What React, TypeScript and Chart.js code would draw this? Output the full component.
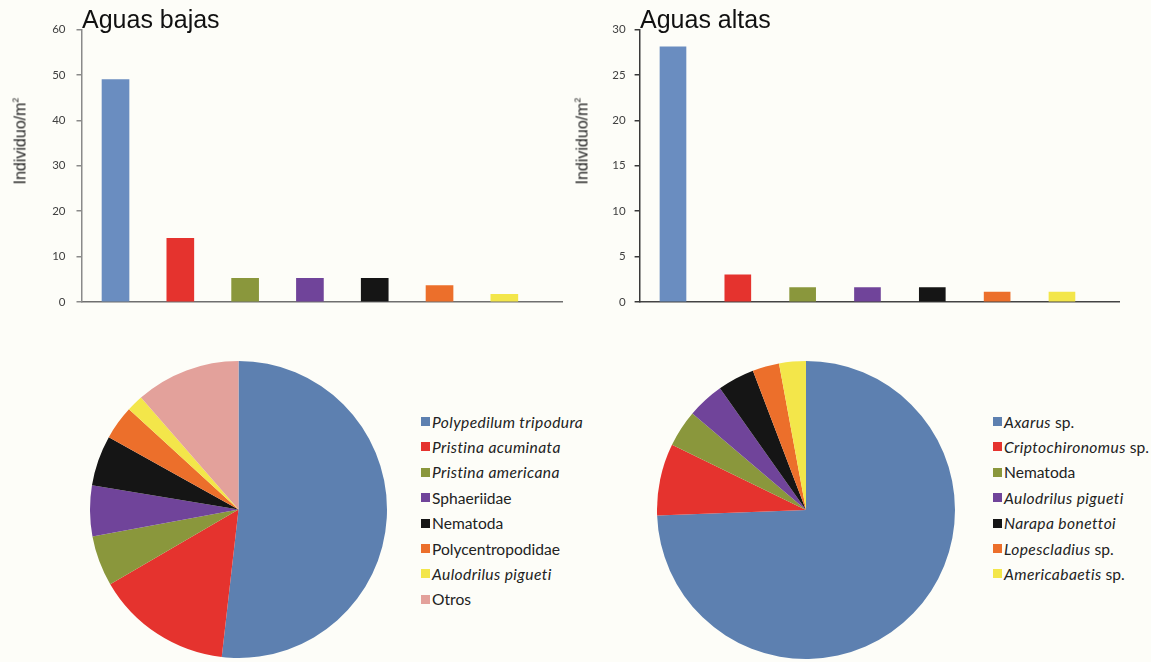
import React, { useEffect, useRef } from 'react';
import { Chart, registerables } from 'chart.js';

Chart.register(...registerables);

// ---------- DATA ----------
const lowCategories = ['Polypedilum tripodura', 'Pristina acuminata', 'Pristina americana', 'Sphaeriidae', 'Nematoda', 'Polycentropodidae', 'Aulodrilus pigueti'];
const lowBarValues = [49, 14, 5.2, 5.2, 5.2, 3.6, 1.7];
const lowYTicks = [0, 10, 20, 30, 40, 50, 60];

const highCategories = ['Axarus sp.', 'Criptochironomus sp.', 'Nematoda', 'Aulodrilus pigueti', 'Narapa bonettoi', 'Lopescladius sp.', 'Americabaetis sp.'];
const highBarValues = [28.1, 3, 1.6, 1.6, 1.6, 1.1, 1.1];
const highYTicks = [0, 5, 10, 15, 20, 25, 30];

const lowPieCategories = [...lowCategories, 'Otros'];
const lowPieValues = [51.8, 14.8, 5.5, 5.5, 5.5, 3.7, 1.8, 11.4];
const highPieValues = [74.4, 7.8, 4.0, 4.0, 4.0, 2.9, 2.9];

// legend text: [italic part, roman part]
const lowLegend: [string, string][] = [
  ['Polypedilum tripodura', ''],
  ['Pristina acuminata', ''],
  ['Pristina americana', ''],
  ['', 'Sphaeriidae'],
  ['', 'Nematoda'],
  ['', 'Polycentropodidae'],
  ['Aulodrilus pigueti', ''],
  ['', 'Otros'],
];
const highLegend: [string, string][] = [
  ['Axarus', ' sp.'],
  ['Criptochironomus', ' sp.'],
  ['', 'Nematoda'],
  ['Aulodrilus pigueti', ''],
  ['Narapa bonettoi', ''],
  ['Lopescladius', ' sp.'],
  ['Americabaetis', ' sp.'],
];

// ---------- STYLES ----------
const barColors = ['#6a8dc0', '#e5332e', '#8a973c', '#70449a', '#151515', '#ec6f2b', '#f3e64a'];
const pieColors = ['#5d80b0', '#e5332e', '#8a973c', '#70449a', '#151515', '#ec6f2b', '#f3e64a', '#e3a19b'];
const BG = '#fdfdf8';

function barConfig(values: number[], labels: string[], ticks: number[], o: any) {
  return {
    type: 'bar',
    data: {
      labels,
      datasets: [{
        data: values.map((v, i) => ({ x: i + 1, y: v })),
        backgroundColor: barColors,
        barThickness: o.barThickness,
        borderWidth: 0,
      }],
    },
    options: {
      responsive: false,
      animation: false,
      layout: { padding: o.padding },
      plugins: { legend: { display: false }, tooltip: { enabled: false } },
      scales: {
        x: {
          type: 'linear',
          offset: false,
          min: o.xmin,
          max: o.xmax,
          ticks: { display: false },
          grid: { display: false },
          border: { display: true, color: o.xColor, width: 1.5 },
          afterFit: (s: any) => { s.height = 0; },
        },
        y: {
          min: ticks[0],
          max: ticks[ticks.length - 1],
          afterBuildTicks: (s: any) => { s.ticks = ticks.map((v) => ({ value: v })); },
          ticks: { color: '#404040', font: { family: 'Lato', size: 11.5 }, padding: o.tickPad },
          grid: { drawOnChartArea: false, drawTicks: true, tickLength: 5, color: o.yColor, lineWidth: 1.5 },
          border: { display: true, color: o.yColor, width: 1.5 },
          afterFit: (s: any) => { s.width = 50; },
        },
      },
    },
  };
}

function pieConfig(values: number[], labels: string[], colors: string[]) {
  return {
    type: 'pie',
    data: { labels, datasets: [{ data: values, backgroundColor: colors, borderWidth: 0 }] },
    options: {
      responsive: false,
      animation: false,
      layout: { padding: 0 },
      plugins: { legend: { display: false }, tooltip: { enabled: false } },
    },
  };
}

function ChartCanvas({ config, left, top, width, height }: any) {
  const ref = useRef<HTMLCanvasElement>(null);
  useEffect(() => {
    const chart = new Chart(ref.current as HTMLCanvasElement, config);
    return () => chart.destroy();
  }, []);
  return (
    <canvas ref={ref} width={width} height={height}
      style={{ position: 'absolute', left, top, width, height }} />
  );
}

function YTitle({ x, y }: { x: number; y: number }) {
  return (
    <div style={{
      position: 'absolute', left: x, top: y, transform: 'translate(-50%, -50%) rotate(-90deg)',
      fontFamily: '"Liberation Sans", Arial, sans-serif', fontSize: 16, color: '#222', whiteSpace: 'nowrap', lineHeight: '16px',
    }}>
      Individuo/m<span style={{ fontSize: 9, verticalAlign: 7 }}>2</span>
    </div>
  );
}

function Title({ x, text }: { x: number; text: string }) {
  return (
    <div style={{
      position: 'absolute', left: x, top: 6.5, fontFamily: '"Liberation Sans", Arial, sans-serif',
      fontSize: 25, lineHeight: '25px', color: '#111', whiteSpace: 'nowrap',
    }}>{text}</div>
  );
}

function Legend({ x, y, items, colors }: { x: number; y: number; items: [string, string][]; colors: string[] }) {
  return (
    <>
      {items.map((it, i) => (
        <div key={i} style={{
          position: 'absolute', left: x, top: y + i * 25.4 - 10, height: 20, display: 'flex', alignItems: 'center',
          fontFamily: 'Lato, "Open Sans", sans-serif', fontSize: 15.6, color: '#222', whiteSpace: 'nowrap',
        }}>
          <span style={{ display: 'inline-block', width: 9, height: 9, background: colors[i], marginRight: 2 }} />
          <span>
            {it[0] && <i style={{ letterSpacing: 0.4 }}>{it[0]}</i>}
            {it[1]}
          </span>
        </div>
      ))}
    </>
  );
}

export default function App() {
  const lowBar = barConfig(lowBarValues, lowCategories, lowYTicks, {
    padding: { left: 31.5, right: 18, top: 29.5, bottom: 18 },
    xmin: 0.475, xmax: 7.89, barThickness: 27, xColor: '#6f6f6f', yColor: '#8a8a8a', tickPad: 11,
  });
  const highBar = barConfig(highBarValues, highCategories, highYTicks, {
    padding: { left: 9.6, right: 32, top: 29.5, bottom: 18 },
    xmin: 0.485, xmax: 7.88, barThickness: 26, xColor: '#444444', yColor: '#3a3a3a', tickPad: 9,
  });
  const lowPie = pieConfig(lowPieValues, lowPieCategories, pieColors);
  const highPie = pieConfig(highPieValues, highCategories, pieColors.slice(0, 7));

  return (
    <div style={{ position: 'fixed', left: 0, top: 0, width: 1151, height: 662, background: BG, overflow: 'hidden' }}>
      <ChartCanvas config={lowBar} left={0} top={0} width={580} height={320} />
      <ChartCanvas config={highBar} left={580} top={0} width={571} height={320} />
      <ChartCanvas config={lowPie} left={90} top={361} width={297} height={297} />
      <ChartCanvas config={highPie} left={657} top={361} width={298} height={298} />
      <Title x={82} text="Aguas bajas" />
      <Title x={640} text="Aguas altas" />
      <YTitle x={18} y={141} />
      <YTitle x={580} y={141} />
      <Legend x={421} y={421.5} items={lowLegend} colors={pieColors} />
      <Legend x={993} y={421.5} items={highLegend} colors={pieColors} />
    </div>
  );
}
